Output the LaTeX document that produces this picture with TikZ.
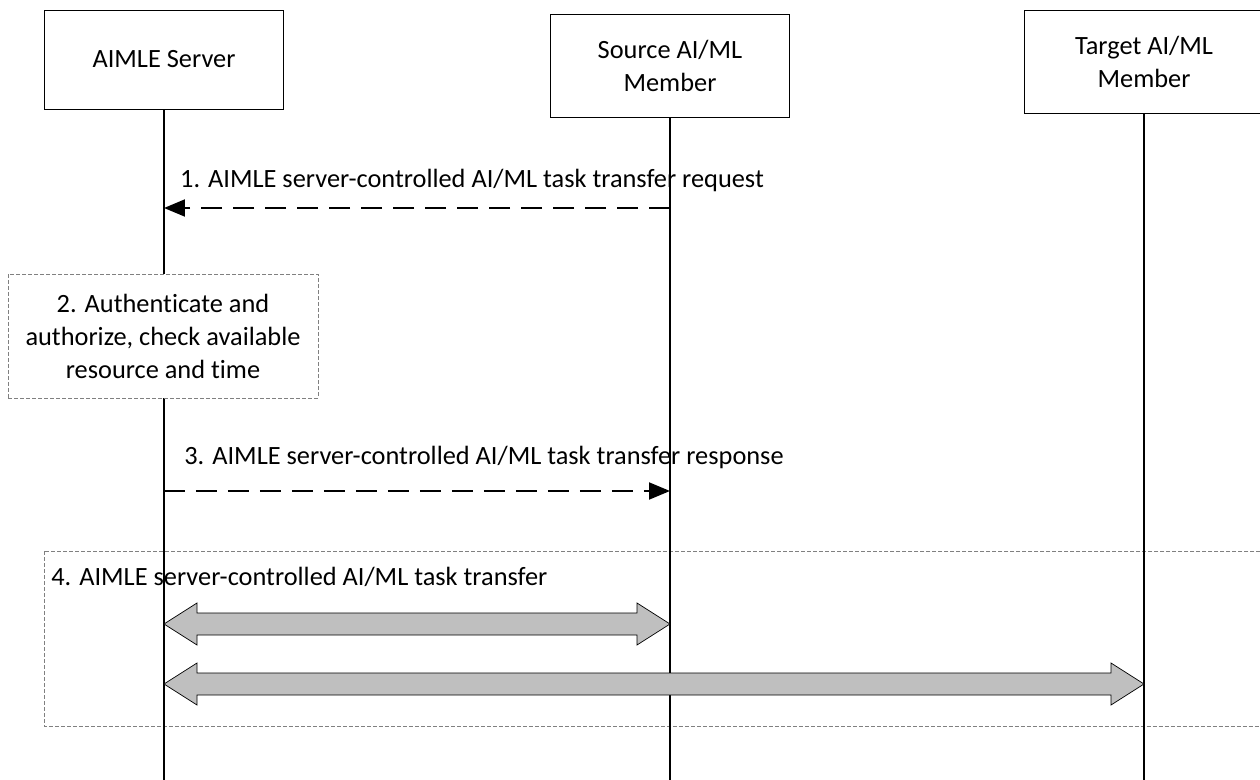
\documentclass[tikz,border=0pt]{standalone}
\usepackage{fontspec}
\setmainfont{Carlito}[Ligatures=NoCommon]
\usetikzlibrary{arrows.meta,calc}
\newcommand\seqfont{\fontsize{15}{18.8}\selectfont}
\tikzset{
  actor/.style = {draw, line width=0.5pt, fill=white, minimum width=4.78cm, align=center, font=\seqfont},
  lifeline/.style = {line width=1.1pt},
  msg/.style = {line width=1.1pt, dash pattern=on 0.42cm off 0.22cm, -{Triangle[length=0.42cm,width=0.34cm]}},
  procbox/.style = {draw=black!50, line width=0.5pt, dash pattern=on 0.08cm off 0.04cm},
  bigarrow/.style = {draw, fill=black!25, line width=0.4pt, line join=miter},
  msglabel/.style = {font=\seqfont, inner sep=0pt}
}
\begin{document}
\begin{tikzpicture}[x=0.02cm, y=-0.02cm]
	\useasboundingbox (0,0) rectangle (1260,780);

	% entities
	\node[actor, minimum height=1.98cm] (srv) at (164,59.5) {AIMLE Server};
	\node[actor, minimum height=2.06cm] (src) at (670,65.5) {Source AI/ML\\Member};
	\node[actor, minimum height=2.06cm] (tgt) at (1144,61.5) {Target AI/ML\\Member};

	% step 4 frame and its title (lifelines cross over it)
	\draw[procbox] (44,551) rectangle (1266,726);
	\node[msglabel, anchor=west] (t4) at (51,577) {4. AIMLE server-controlled AI/ML task transfer};

	% lifelines
	\coordinate (srvend) at (srv.south |- 0,780);
	\coordinate (srcend) at (src.south |- 0,780);
	\coordinate (tgtend) at (tgt.south |- 0,780);
	\draw[lifeline] (srv.south) -- (srvend);
	\draw[lifeline] (src.south) -- (srcend);
	\draw[lifeline] (tgt.south) -- (tgtend);

	% step 2, local check on the server
	\node[procbox, fill=white, minimum width=6.2cm, minimum height=2.48cm, align=center, font=\seqfont] (chk) at (163,336)
		{2. Authenticate and\\authorize, check available\\resource and time};

	% step 1: request
	\coordinate (r1a) at (src.south |- 0,208);
	\coordinate (r1b) at (srv.south |- 0,208);
	\draw[msg] (r1a) -- (r1b);
	\node[msglabel] (l1) at (472,180) {1. AIMLE server-controlled AI/ML task transfer request};

	% step 3: response
	\coordinate (r3a) at (srv.south |- 0,491);
	\coordinate (r3b) at (src.south |- 0,491);
	\draw[msg] (r3a) -- (r3b);
	\node[msglabel] (l3) at (484,457) {3. AIMLE server-controlled AI/ML task transfer response};

	% step 4: transfer arrows
	\coordinate (t4a) at (srv.south |- 0,624);
	\coordinate (t4b) at (src.south |- 0,624);
	\coordinate (t4c) at (srv.south |- 0,684);
	\coordinate (t4d) at (tgt.south |- 0,684);
	\foreach \a/\b in {t4a/t4b, t4c/t4d}
		\draw[bigarrow] (\a) -- ($(\a)+(33,-21)$) -- ($(\a)+(33,-11)$) -- ($(\b)+(-33,-11)$) -- ($(\b)+(-33,-21)$)
			-- (\b) -- ($(\b)+(-33,21)$) -- ($(\b)+(-33,11)$) -- ($(\a)+(33,11)$) -- ($(\a)+(33,21)$) -- cycle;

\end{tikzpicture}
\end{document}
